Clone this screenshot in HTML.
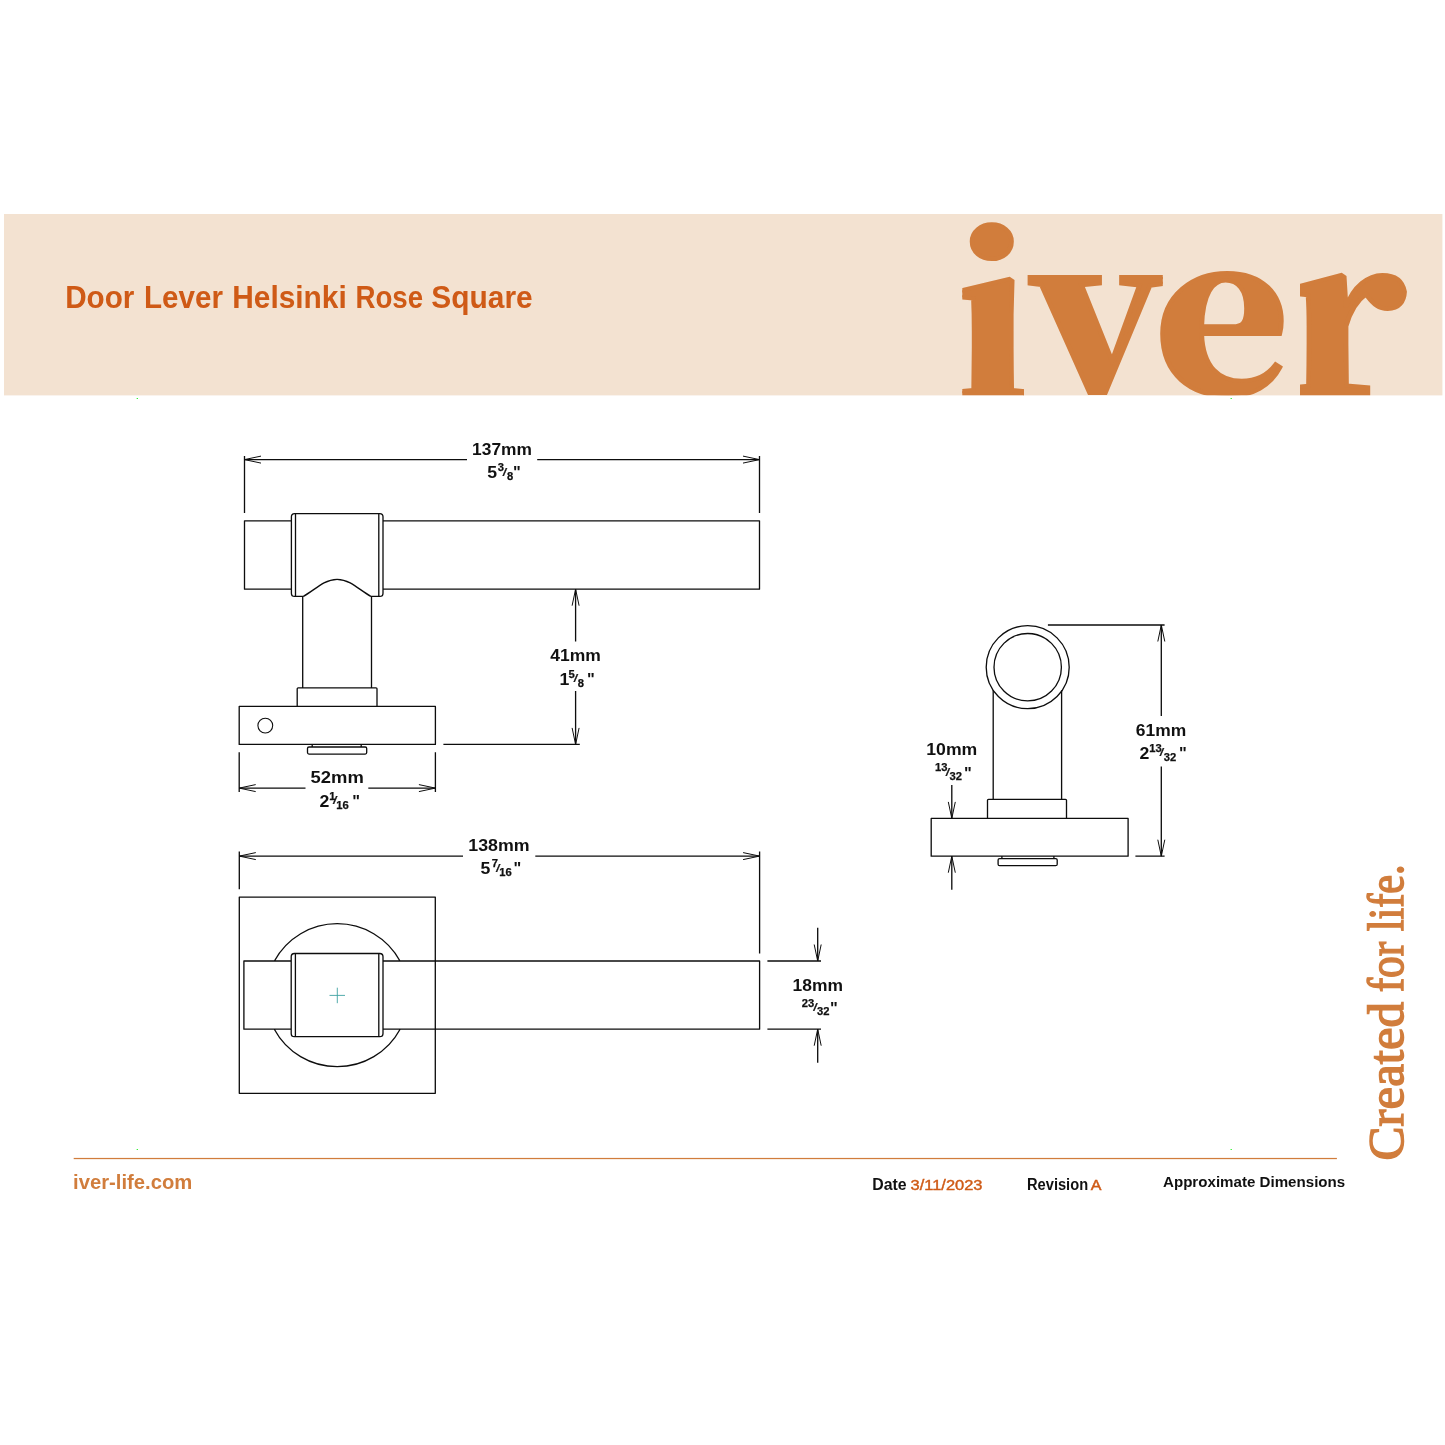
<!DOCTYPE html>
<html lang="en"><head><meta charset="utf-8"><title>Door Lever Helsinki Rose Square</title>
<style>
html,body{margin:0;padding:0;background:#fff;}
body{width:1445px;height:1445px;overflow:hidden;font-family:"Liberation Sans",sans-serif;}
svg{display:block;will-change:transform;}
.sans{font-family:"Liberation Sans",sans-serif;font-weight:700;}
.sansr{font-family:"Liberation Sans",sans-serif;font-weight:400;}
.serif{font-family:"Liberation Serif",serif;}
.logo{font-family:"Noto Serif CJK SC","Liberation Serif",serif;font-weight:900;}
</style></head><body>
<svg width="1445" height="1445" viewBox="0 0 1445 1445">
<defs><clipPath id="lg"><rect x="962.3" y="214" width="61.7" height="181.4"/><polygon points="1027.6,214 1162.8,214 1162.8,395.4 1045,395.4 1045,372 1027.6,372"/><polygon points="1160,292 1176,292 1176,214 1287.6,214 1287.6,395.4 1160,395.4"/><rect x="1300" y="214" width="107.5" height="181.4"/></clipPath><clipPath id="bn"><rect x="4" y="214" width="1438.4" height="181.4"/></clipPath></defs>
<rect x="4" y="214" width="1438.4" height="181.4" fill="#f3e2d1"/>
<g clip-path="url(#bn)"><g class="logo" clip-path="url(#lg)" fill="#d17d3c" stroke="#d17d3c" stroke-linejoin="miter"><text transform="matrix(1.1476 0 0 1.0594 0 0)" x="828.01 898.93 1006.07 1120.45" y="376.12 370.96 369.89 371.50" font-size="200" stroke-width="4">iver</text></g></g>
<text class="sans" y="308" font-size="30.7" fill="#cf5a16"><tspan x="65.17" textLength="69.26" lengthAdjust="spacingAndGlyphs">Door</tspan> <tspan x="143.97" textLength="78.92" lengthAdjust="spacingAndGlyphs">Lever</tspan> <tspan x="232.25" textLength="114.49" lengthAdjust="spacingAndGlyphs">Helsinki</tspan> <tspan x="355.39" textLength="67.75" lengthAdjust="spacingAndGlyphs">Rose</tspan> <tspan x="431.33" textLength="101.39" lengthAdjust="spacingAndGlyphs">Square</tspan></text>
<g fill="#1cf01c"><rect x="136.7" y="398" width="1.2" height="1"/><rect x="1230.6" y="398" width="1.2" height="1"/><rect x="136.7" y="1149" width="1.2" height="1"/><rect x="1230.6" y="1149" width="1.2" height="1"/></g>
<g fill="none" stroke="#0d0d0d" stroke-width="1.32" stroke-linecap="butt" stroke-linejoin="round">
<path d="M291.4,520.8 H244.5 V589.2 H291.4 M383,520.8 H759.5 V589.2 H383 M303.4,596.4 H294.6 Q291.4,596.4 291.4,593.2 V516.8 Q291.4,513.6 294.6,513.6 H379.8 Q383,513.6 383,516.8 V593.2 Q383,596.4 379.8,596.4 H370.8 M295.5,514.2 L295.5,595.8 M378.8,514.2 L378.8,595.8 M303.4,596.4 C310,592.6 318,586.2 324,582.9 C329,580.2 333,579.3 337.1,579.3 C341.2,579.3 345.2,580.2 350.2,582.9 C356.2,586.2 364.2,592.6 370.8,596.4 M302.7,596.4 L302.7,687.8 M371.5,596.4 L371.5,687.8 M297.2,706.4 V688.8 Q297.2,687.8 298.2,687.8 H376 Q377,687.8 377,688.8 V706.4 M239.2,706.4 H435.4 V744.4 H239.2 Z M312.2,744.4 V747 M361.2,744.4 V747 M309,747 H365.2 Q366.7,747 366.7,748.5 V752.6 Q366.7,754.1 365.2,754.1 H309 Q307.5,754.1 307.5,752.6 V748.5 Q307.5,747 309,747 Z M244.5,455.9 L244.5,513 M759.5,455.9 L759.5,513 M244.5,459.6 L467,459.6 M537.2,459.6 L759.5,459.6 M575.6,589.2 L575.6,641.6 M575.6,690.9 L575.6,744.4 M443.4,744.4 L579.8,744.4 M239.2,752.2 L239.2,792.1 M435.4,752.2 L435.4,792.1 M239.2,788.1 L305.5,788.1 M368.3,788.1 L435.4,788.1 M993.2,690.2 L993.2,799.3 M1061.6,690.2 L1061.6,799.3 M987.5,818.4 V800.3 Q987.5,799.3 988.5,799.3 H1065.5 Q1066.5,799.3 1066.5,800.3 V818.4 M931.2,818.4 H1128.1 V856.2 H931.2 Z M1001.9,856.2 V858.6 M1053.9,856.2 V858.6 M999.6,858.6 H1055.7 Q1057.2,858.6 1057.2,860.1 V864.2 Q1057.2,865.7 1055.7,865.7 H999.6 Q998.1,865.7 998.1,864.2 V860.1 Q998.1,858.6 999.6,858.6 Z M1047.9,625 L1164.6,625 M1135.4,856.2 L1164.6,856.2 M1161.3,625 L1161.3,716.1 M1161.3,766.5 L1161.3,856.2 M951.8,785 L951.8,818.4 M951.8,856.2 L951.8,889.8 M239.3,897.1 H435.3 V1093.3 H239.3 Z M291.2,961 H243.9 V1029.2 H291.2 M383,961 H759.6 V1029.2 H383 M294.4,953.5 H379.8 Q383,953.5 383,956.7 V1033.4 Q383,1036.6 379.8,1036.6 H294.4 Q291.2,1036.6 291.2,1033.4 V956.7 Q291.2,953.5 294.4,953.5 Z M295.4,954.1 L295.4,1036.0 M378.8,954.1 L378.8,1036.0 M274.41,961 A71.5,71.5 0 0 1 399.99,961 M274.30,1029.2 A71.5,71.5 0 0 0 400.10,1029.2 M239.3,851.4 L239.3,889.2 M759.6,851.6 L759.6,953.5 M239.3,856.1 L463,856.1 M535.3,856.1 L759.6,856.1 M767.4,961 L821,961 M767.4,1029.2 L821,1029.2 M817.7,927.8 L817.7,961 M817.7,1029.2 L817.7,1062.8"/>
<path d="M261.00,456.10 L244.50,459.60 L261.00,463.10 M743.00,463.10 L759.50,459.60 L743.00,456.10 M579.10,605.70 L575.60,589.20 L572.10,605.70 M572.10,727.90 L575.60,744.40 L579.10,727.90 M255.70,784.60 L239.20,788.10 L255.70,791.60 M418.90,791.60 L435.40,788.10 L418.90,784.60 M1164.80,641.50 L1161.30,625.00 L1157.80,641.50 M1157.80,839.70 L1161.30,856.20 L1164.80,839.70 M948.30,801.90 L951.80,818.40 L955.30,801.90 M955.30,872.70 L951.80,856.20 L948.30,872.70 M255.80,852.60 L239.30,856.10 L255.80,859.60 M743.10,859.60 L759.60,856.10 L743.10,852.60 M814.20,944.50 L817.70,961.00 L821.20,944.50 M821.20,1045.70 L817.70,1029.20 L814.20,1045.70" stroke-width="1.0"/>
<circle cx="265.3" cy="725.6" r="7.4" stroke-width="1.1"/>
<circle cx="1027.7" cy="667.2" r="41.5"/>
<circle cx="1027.7" cy="667.2" r="33.7"/>
</g>
<path d="M329.5,995.4 H345 M337.3,987.7 V1003.2" fill="none" stroke="#3fa3a3" stroke-width="0.9"/>
<g class="sans" fill="#111">
<text x="502" y="454.9" text-anchor="middle" font-size="16.4" textLength="59.8" lengthAdjust="spacingAndGlyphs">137mm</text>
<text font-size="16.4" y="478.0"><tspan x="487.20" textLength="9.85" lengthAdjust="spacingAndGlyphs">5</tspan> <tspan x="497.70" y="471.10" font-size="10.4" stroke="#111" stroke-width="0.25" textLength="6.24" lengthAdjust="spacingAndGlyphs">3</tspan><tspan x="502.60" y="475.80" font-size="11.6" font-weight="400" stroke="#111" stroke-width="0.22" textLength="4.7" lengthAdjust="spacingAndGlyphs">/</tspan><tspan x="506.90" y="480.00" font-size="10.4" stroke="#111" stroke-width="0.25" textLength="6.24" lengthAdjust="spacingAndGlyphs">8</tspan><tspan x="513.10" y="478.30">"</tspan></text>
<text x="575.6" y="661.4" text-anchor="middle" font-size="16.4" textLength="50.6" lengthAdjust="spacingAndGlyphs">41mm</text>
<text font-size="16.4" y="684.5"><tspan x="559.40" textLength="9.85" lengthAdjust="spacingAndGlyphs">1</tspan> <tspan x="568.60" y="677.60" font-size="10.4" stroke="#111" stroke-width="0.25" textLength="6.24" lengthAdjust="spacingAndGlyphs">5</tspan><tspan x="573.50" y="682.30" font-size="11.6" font-weight="400" stroke="#111" stroke-width="0.22" textLength="4.7" lengthAdjust="spacingAndGlyphs">/</tspan><tspan x="577.70" y="686.50" font-size="10.4" stroke="#111" stroke-width="0.25" textLength="6.24" lengthAdjust="spacingAndGlyphs">8</tspan><tspan x="587.00" y="684.80">"</tspan></text>
<text x="337.2" y="783.1" text-anchor="middle" font-size="16.4" textLength="53.2" lengthAdjust="spacingAndGlyphs">52mm</text>
<text font-size="16.4" y="806.5"><tspan x="319.40" textLength="9.85" lengthAdjust="spacingAndGlyphs">2</tspan> <tspan x="329.30" y="799.60" font-size="10.4" stroke="#111" stroke-width="0.25" textLength="6.24" lengthAdjust="spacingAndGlyphs">1</tspan><tspan x="332.80" y="804.30" font-size="11.6" font-weight="400" stroke="#111" stroke-width="0.22" textLength="4.7" lengthAdjust="spacingAndGlyphs">/</tspan><tspan x="336.30" y="808.50" font-size="10.4" stroke="#111" stroke-width="0.25" textLength="12.49" lengthAdjust="spacingAndGlyphs">16</tspan><tspan x="352.20" y="806.80">"</tspan></text>
<text x="498.9" y="850.9" text-anchor="middle" font-size="16.4" textLength="61.3" lengthAdjust="spacingAndGlyphs">138mm</text>
<text font-size="16.4" y="873.7"><tspan x="480.60" textLength="9.85" lengthAdjust="spacingAndGlyphs">5</tspan> <tspan x="491.70" y="866.80" font-size="10.4" stroke="#111" stroke-width="0.25" textLength="6.24" lengthAdjust="spacingAndGlyphs">7</tspan><tspan x="495.80" y="871.50" font-size="11.6" font-weight="400" stroke="#111" stroke-width="0.22" textLength="4.7" lengthAdjust="spacingAndGlyphs">/</tspan><tspan x="499.30" y="875.70" font-size="10.4" stroke="#111" stroke-width="0.25" textLength="12.49" lengthAdjust="spacingAndGlyphs">16</tspan><tspan x="513.60" y="874.00">"</tspan></text>
<text x="817.7" y="990.8" text-anchor="middle" font-size="16.4" textLength="50.4" lengthAdjust="spacingAndGlyphs">18mm</text>
<text font-size="16.4" y="1013.4"><tspan x="801.70" y="1006.50" font-size="10.4" stroke="#111" stroke-width="0.25" textLength="12.49" lengthAdjust="spacingAndGlyphs">23</tspan><tspan x="813.10" y="1011.20" font-size="11.6" font-weight="400" stroke="#111" stroke-width="0.22" textLength="4.7" lengthAdjust="spacingAndGlyphs">/</tspan><tspan x="816.90" y="1015.40" font-size="10.4" stroke="#111" stroke-width="0.25" textLength="12.49" lengthAdjust="spacingAndGlyphs">32</tspan><tspan x="830.10" y="1013.70">"</tspan></text>
<text x="951.8" y="755.0" text-anchor="middle" font-size="16.4" textLength="51" lengthAdjust="spacingAndGlyphs">10mm</text>
<text font-size="16.4" y="778.3"><tspan x="935.10" y="771.40" font-size="10.4" stroke="#111" stroke-width="0.25" textLength="12.49" lengthAdjust="spacingAndGlyphs">13</tspan><tspan x="945.60" y="776.10" font-size="11.6" font-weight="400" stroke="#111" stroke-width="0.22" textLength="4.7" lengthAdjust="spacingAndGlyphs">/</tspan><tspan x="949.60" y="780.30" font-size="10.4" stroke="#111" stroke-width="0.25" textLength="12.49" lengthAdjust="spacingAndGlyphs">32</tspan><tspan x="964.10" y="778.60">"</tspan></text>
<text x="1161" y="736.2" text-anchor="middle" font-size="16.4" textLength="50.4" lengthAdjust="spacingAndGlyphs">61mm</text>
<text font-size="16.4" y="758.5"><tspan x="1139.40" textLength="9.85" lengthAdjust="spacingAndGlyphs">2</tspan> <tspan x="1149.30" y="751.60" font-size="10.4" stroke="#111" stroke-width="0.25" textLength="12.49" lengthAdjust="spacingAndGlyphs">13</tspan><tspan x="1159.50" y="756.30" font-size="11.6" font-weight="400" stroke="#111" stroke-width="0.22" textLength="4.7" lengthAdjust="spacingAndGlyphs">/</tspan><tspan x="1163.80" y="760.50" font-size="10.4" stroke="#111" stroke-width="0.25" textLength="12.49" lengthAdjust="spacingAndGlyphs">32</tspan><tspan x="1179.00" y="758.80">"</tspan></text>
</g>
<rect x="73.7" y="1157.9" width="1263.2" height="1.25" fill="#d17d3c"/>
<text class="sans" x="73.0" y="1189.3" font-size="21" fill="#d17d3c" textLength="119.3" lengthAdjust="spacingAndGlyphs">iver-life.com</text>
<text class="sans" x="872.3" y="1189.6" font-size="15.9" fill="#111" textLength="34.4" lengthAdjust="spacingAndGlyphs">Date</text>
<text x="910.6" y="1190.4" class="sansr" font-size="13.8" fill="#cf5a16" stroke="#cf5a16" stroke-width="0.4" textLength="71.9" lengthAdjust="spacingAndGlyphs">3/11/2023</text>
<text class="sans" x="1027" y="1189.8" font-size="15.6" fill="#111" textLength="61.1" lengthAdjust="spacingAndGlyphs">Revision</text>
<text x="1090.7" y="1189.8" class="sansr" font-size="15.2" fill="#cf5a16" stroke="#cf5a16" stroke-width="0.45" textLength="10.7" lengthAdjust="spacingAndGlyphs">A</text>
<text class="sans" x="1163" y="1187.1" font-size="15.4" fill="#111" textLength="182.2" lengthAdjust="spacingAndGlyphs">Approximate Dimensions</text>
<text class="serif" transform="translate(1403.4,1158.9) rotate(-90)" y="0" font-size="50.2" fill="#d17d3c" stroke="#d17d3c" stroke-width="1.5"><tspan x="-1.5" textLength="158.5" lengthAdjust="spacingAndGlyphs">Created</tspan> <tspan x="166.6" textLength="50.5" lengthAdjust="spacingAndGlyphs">for</tspan> <tspan x="227.6" textLength="67" lengthAdjust="spacingAndGlyphs">life.</tspan></text>
</svg>
</body></html>
